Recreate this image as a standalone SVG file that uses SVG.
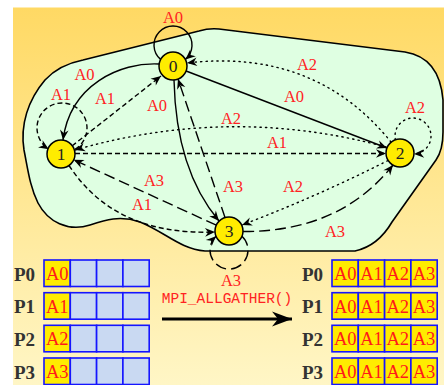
<svg xmlns="http://www.w3.org/2000/svg" width="446" height="385" viewBox="0 0 446 385">
<defs>
<linearGradient id="bg" x1="0" y1="0" x2="0" y2="1">
<stop offset="0" stop-color="#FFD964"/>
<stop offset="1" stop-color="#FFF6C6"/>
</linearGradient>
<marker id="ah" markerUnits="userSpaceOnUse" markerWidth="12" markerHeight="12" viewBox="-11 -6 12 12" refX="0" refY="0" orient="auto">
<path d="M0,0 L-10,-4.3 L-6.8,0 L-10,4.3 Z" fill="#000"/>
</marker>
<marker id="bigah" markerUnits="userSpaceOnUse" markerWidth="24" markerHeight="18" viewBox="-22 -9 24 18" refX="0" refY="0" orient="auto">
<path d="M0,0 L-20,-7.5 L-14,0 L-20,7.5 Z" fill="#000"/>
</marker>
</defs>
<style>
.e{fill:none;stroke:#000;stroke-width:1.4;marker-end:url(#ah)}
.sd{stroke-dasharray:5 3}
.ld{stroke-dasharray:11 5}
.dt{stroke-dasharray:1.3 4.2;stroke-linecap:round}
.lb{font-family:"Liberation Serif","DejaVu Serif",serif;font-size:16.5px;fill:#FF2222;text-anchor:middle}
.node circle{fill:#FFEC00;stroke:#000;stroke-width:1.5}
.node text{font-family:"Liberation Serif","DejaVu Serif",serif;font-size:17.5px;fill:#222;text-anchor:middle}
.pl{font-family:"Liberation Serif","DejaVu Serif",serif;font-weight:bold;font-size:19px;fill:#333}
.cf{fill:#FFEC00;stroke:#1515FF;stroke-width:1.6}
.ce{fill:#C9D9F2;stroke:#1515FF;stroke-width:1.6}
.ct{font-family:"Liberation Serif","DejaVu Serif",serif;font-size:18.5px;fill:#FF1A1A;text-anchor:middle}
</style>
<rect x="13" y="7.5" width="431" height="377.5" fill="url(#bg)"/>
<g id="cluster">
<path d="M 83 60 L 199 31 Q 209 28 219 29 L 405 52 C 430 56 441 75 443 100 L 443 132 Q 443 150 436 160 L 392 222 Q 378 246 355 251 L 205 251 C 180 249 165 232 140 222 C 120 215 105 220 90 225 C 68 232 48 222 38 203 C 30 187 28 170 24 150 C 20 125 28 100 45 80 C 56 68 68 63 83 60 Z" fill="#DFFFE2" stroke="#000" stroke-width="1.6"/>
</g>
<g id="connectors">
<path class="e" d="M 160.6 59.4 A 19 19 0 1 1 185.4 59.4"/>
<path class="e" d="M 159 64 C 120 62 70 85 63 140"/>
<path class="e sd" d="M 72 146 L 161 76"/>
<path class="e sd" d="M 75.2 149.2 A 25 25 0 1 0 48.8 149.2"/>
<path class="e" d="M 186.1 71 L 386.9 148"/>
<path class="e dt" d="M 391 142 Q 315 48 187 63"/>
<path class="e dt" d="M 395.4 139.8 A 18 18 0 1 1 414 154"/>
<path class="e dt" d="M 386 147 Q 231 105 75 150"/>
<path class="e sd" d="M 75 153.5 L 386 153.5"/>
<path class="e" d="M 174 80 Q 176 170 219 221"/>
<path class="e ld" d="M 225 217.5 L 178 79"/>
<path class="e ld" d="M 216.3 225.2 L 73.7 159.8"/>
<path class="e sd" d="M 69 165.5 Q 115 236 215 232"/>
<path class="e dt" d="M 388 160.5 Q 318 196 242 225"/>
<path class="e ld" d="M 243 231.5 Q 340 232 393 165"/>
<path class="e ld" d="M 242 236.2 A 19 19 0 1 1 216 236.2"/>
<text class="lb" x="173" y="23">A0</text>
<text class="lb" x="84.5" y="80">A0</text>
<text class="lb" x="61" y="100">A1</text>
<text class="lb" x="105" y="104">A1</text>
<text class="lb" x="157" y="111">A0</text>
<text class="lb" x="154" y="186">A3</text>
<text class="lb" x="142" y="210">A1</text>
<text class="lb" x="307" y="70">A2</text>
<text class="lb" x="294" y="102">A0</text>
<text class="lb" x="415" y="113">A2</text>
<text class="lb" x="231" y="124">A2</text>
<text class="lb" x="277" y="148">A1</text>
<text class="lb" x="233" y="192">A3</text>
<text class="lb" x="293" y="192">A2</text>
<text class="lb" x="335" y="237">A3</text>
<text class="lb" x="231" y="286">A3</text>
</g>
<g id="node0" class="node"><circle cx="173" cy="66" r="14"/><text x="173" y="72">0</text></g>
<g id="node1" class="node"><circle cx="61" cy="154" r="14"/><text x="61" y="160">1</text></g>
<g id="node2" class="node"><circle cx="400" cy="153" r="14"/><text x="400" y="159">2</text></g>
<g id="node3" class="node"><circle cx="229" cy="231" r="14"/><text x="229" y="237">3</text></g>
<g id="before">
<text class="pl" x="14" y="280.5">P0</text>
<text class="pl" x="14" y="313.2">P1</text>
<text class="pl" x="14" y="345.8">P2</text>
<text class="pl" x="14" y="378.5">P3</text>
<rect class="cf" x="44" y="260" width="26.3" height="26.5"/><rect class="ce" x="70.3" y="260" width="26.3" height="26.5"/><rect class="ce" x="96.6" y="260" width="26.3" height="26.5"/><rect class="ce" x="122.9" y="260" width="26.3" height="26.5"/>
<rect class="cf" x="44" y="292.7" width="26.3" height="26.5"/><rect class="ce" x="70.3" y="292.7" width="26.3" height="26.5"/><rect class="ce" x="96.6" y="292.7" width="26.3" height="26.5"/><rect class="ce" x="122.9" y="292.7" width="26.3" height="26.5"/>
<rect class="cf" x="44" y="325.3" width="26.3" height="26.5"/><rect class="ce" x="70.3" y="325.3" width="26.3" height="26.5"/><rect class="ce" x="96.6" y="325.3" width="26.3" height="26.5"/><rect class="ce" x="122.9" y="325.3" width="26.3" height="26.5"/>
<rect class="cf" x="44" y="358" width="26.3" height="26.5"/><rect class="ce" x="70.3" y="358" width="26.3" height="26.5"/><rect class="ce" x="96.6" y="358" width="26.3" height="26.5"/><rect class="ce" x="122.9" y="358" width="26.3" height="26.5"/>
<text class="ct" x="57.2" y="280">A0</text>
<text class="ct" x="57.2" y="312.7">A1</text>
<text class="ct" x="57.2" y="345.3">A2</text>
<text class="ct" x="57.2" y="378">A3</text>
</g>
<g id="operation">
<text x="227" y="303" font-family="'Liberation Mono','DejaVu Sans Mono',monospace" font-size="14.5" fill="#FF2222" text-anchor="middle">MPI_ALLGATHER()</text>
<line x1="162" y1="319" x2="292" y2="319" stroke="#000" stroke-width="3" marker-end="url(#bigah)"/>
</g>
<g id="after">
<text class="pl" x="302" y="280.5">P0</text>
<text class="pl" x="302" y="313.2">P1</text>
<text class="pl" x="302" y="345.8">P2</text>
<text class="pl" x="302" y="378.5">P3</text>
<g id="row0">
<rect class="cf" x="332" y="260" width="26.3" height="26.5"/><rect class="cf" x="358.3" y="260" width="26.3" height="26.5"/><rect class="cf" x="384.6" y="260" width="26.3" height="26.5"/><rect class="cf" x="410.9" y="260" width="26.3" height="26.5"/>
<text class="ct" x="345.2" y="280">A0</text><text class="ct" x="371.5" y="280">A1</text><text class="ct" x="397.8" y="280">A2</text><text class="ct" x="424" y="280">A3</text>
</g>
<g id="row1">
<rect class="cf" x="332" y="292.7" width="26.3" height="26.5"/><rect class="cf" x="358.3" y="292.7" width="26.3" height="26.5"/><rect class="cf" x="384.6" y="292.7" width="26.3" height="26.5"/><rect class="cf" x="410.9" y="292.7" width="26.3" height="26.5"/>
<text class="ct" x="345.2" y="312.7">A0</text><text class="ct" x="371.5" y="312.7">A1</text><text class="ct" x="397.8" y="312.7">A2</text><text class="ct" x="424" y="312.7">A3</text>
</g>
<g id="row2">
<rect class="cf" x="332" y="325.3" width="26.3" height="26.5"/><rect class="cf" x="358.3" y="325.3" width="26.3" height="26.5"/><rect class="cf" x="384.6" y="325.3" width="26.3" height="26.5"/><rect class="cf" x="410.9" y="325.3" width="26.3" height="26.5"/>
<text class="ct" x="345.2" y="345.3">A0</text><text class="ct" x="371.5" y="345.3">A1</text><text class="ct" x="397.8" y="345.3">A2</text><text class="ct" x="424" y="345.3">A3</text>
</g>
<g id="row3">
<rect class="cf" x="332" y="358" width="26.3" height="26.5"/><rect class="cf" x="358.3" y="358" width="26.3" height="26.5"/><rect class="cf" x="384.6" y="358" width="26.3" height="26.5"/><rect class="cf" x="410.9" y="358" width="26.3" height="26.5"/>
<text class="ct" x="345.2" y="378">A0</text><text class="ct" x="371.5" y="378">A1</text><text class="ct" x="397.8" y="378">A2</text><text class="ct" x="424" y="378">A3</text>
</g>
</g>
</svg>
